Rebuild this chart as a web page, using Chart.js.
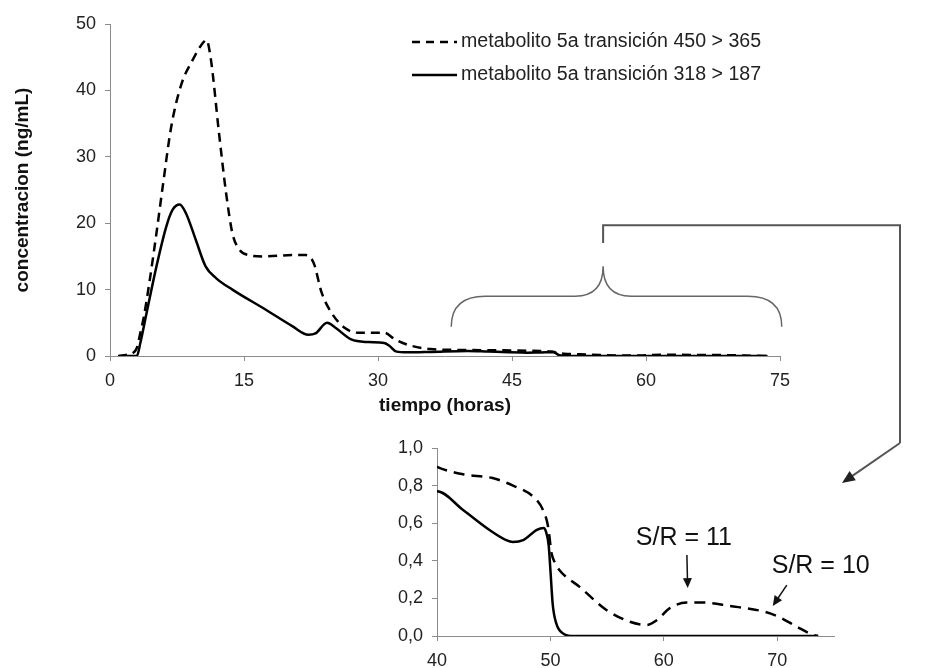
<!DOCTYPE html>
<html>
<head>
<meta charset="utf-8">
<script src="https://cdn.jsdelivr.net/npm/chart.js@4.4.1/dist/chart.umd.min.js"></script>
<style>
body{margin:0;background:#fff;}
#wrap{position:relative;width:951px;height:668px;}
#wrap canvas{position:absolute;left:0;top:0;}
</style>
</head>
<body>
<div id="wrap">
<canvas id="principal" width="951" height="668"></canvas>
<canvas id="detalle" width="951" height="668"></canvas>
</div>
<script>
// datos (tiempo en horas, concentracion en ng/mL)
var etiquetas = ['metabolito 5a transición 450 > 365', 'metabolito 5a transición 318 > 187'];

var tiempo450 = [0.9, 1.8, 2.5, 3.0, 3.4, 3.8, 4.4, 5.2, 5.9, 6.85, 7.96, 9.26, 10.37, 10.8, 11.3, 12.2, 13.0, 13.7, 14.5, 15.5, 17.4, 20.4, 21.9, 22.8, 23.7, 24.8, 26.3, 27.8, 30.7, 31.9, 33.3, 35.9,
    40, 42.3, 44.9, 46.7, 48.5, 49.35, 49.8, 50.1, 50.4, 50.8, 52.6, 54.9, 57.0, 58.5, 59.4, 60.5, 62.0, 63.5, 65.8, 68.8, 70.2, 71.7, 73.2, 73.6];
var conc450 = [0, 0.15, 0.4, 1.2, 3.5, 6, 11, 18.5, 25.5, 34.5, 40.8, 44.6, 47.1, 47.6, 44.6, 33.6, 24.5, 18.5, 16, 15.2, 15, 15.2, 15.2, 14, 9.5, 6.5, 4.2, 3.5, 3.5, 2.5, 1.7, 1.05,
    0.90, 0.86, 0.84, 0.80, 0.74, 0.67, 0.58, 0.44, 0.39, 0.35, 0.26, 0.14, 0.076, 0.059, 0.085, 0.147, 0.178, 0.178, 0.16, 0.13, 0.10, 0.05, 0.005, 0];

var tiempo318 = [1.0, 3.0, 3.4, 4.1, 5.2, 6.3, 7.0, 7.8, 8.5, 9.6, 10.7, 11.9, 13.7, 17.4, 20.4, 22.2, 23.0, 24.3, 25.2, 27.0, 28.9, 30.7, 31.3, 32.0, 33.3, 35.9,
    40, 42.3, 44.6, 46.1, 46.7, 47.6, 48.8, 49.4, 49.6, 49.85, 50.0, 50.2, 50.5, 51.1, 52.0, 60.0, 73.6];
var conc318 = [0, 0, 2, 6.5, 13.5, 19.5, 22, 22.8, 21.5, 17.5, 13.5, 11.7, 10, 7, 4.5, 3.2, 3.4, 5.0, 4.3, 2.5, 2.1, 1.95, 1.5, 0.7, 0.55, 0.62,
    0.77, 0.67, 0.565, 0.51, 0.50, 0.51, 0.565, 0.575, 0.556, 0.48, 0.35, 0.17, 0.07, 0.014, 0, 0, 0];

var ticksX = [0, 15, 30, 45, 60, 75];
var ticksY = [0, 10, 20, 30, 40, 50];
var ticksXdet = [40, 50, 60, 70];
var ticksYdet = [0, 0.2, 0.4, 0.6, 0.8, 1.0];

var fuente = "'Liberation Sans', Arial, sans-serif";
Chart.defaults.font.family = fuente;
Chart.defaults.color = '#222';

function puntos(ts, cs) {
    return ts.map(function (t, i) { return { x: t, y: cs[i] }; });
}

function series(guion) {
    return [{
        label: etiquetas[0],
        data: puntos(tiempo450, conc450),
        borderColor: '#000',
        borderWidth: 2.5,
        borderDash: guion,
        pointRadius: 0,
        fill: false,
        cubicInterpolationMode: 'monotone'
    }, {
        label: etiquetas[1],
        data: puntos(tiempo318, conc318),
        borderColor: '#000',
        borderWidth: 2.5,
        pointRadius: 0,
        fill: false,
        cubicInterpolationMode: 'monotone'
    }];
}

function flecha(ctx, x1, y1, x2, y2, largo, ancho) {
    var a = Math.atan2(y2 - y1, x2 - x1);
    ctx.beginPath();
    ctx.moveTo(x1, y1);
    ctx.lineTo(x2 - largo * 0.8 * Math.cos(a), y2 - largo * 0.8 * Math.sin(a));
    ctx.stroke();
    ctx.beginPath();
    ctx.moveTo(x2, y2);
    ctx.lineTo(x2 - largo * Math.cos(a) + ancho * Math.sin(a), y2 - largo * Math.sin(a) - ancho * Math.cos(a));
    ctx.lineTo(x2 - largo * Math.cos(a) - ancho * Math.sin(a), y2 - largo * Math.sin(a) + ancho * Math.cos(a));
    ctx.closePath();
    ctx.fill();
}

var gris = '#8c8c8c';

// leyenda, llave y conector de la grafica principal
var anotacionesPrincipal = {
    id: 'anotacionesPrincipal',
    afterDraw: function (chart) {
        var ctx = chart.ctx, xs = chart.scales.x, ys = chart.scales.y;
        ctx.save();

        // leyenda
        ctx.strokeStyle = '#000';
        ctx.lineWidth = 2.5;
        ctx.setLineDash([8, 6]);
        ctx.beginPath(); ctx.moveTo(412, 42); ctx.lineTo(457, 42); ctx.stroke();
        ctx.setLineDash([]);
        ctx.beginPath(); ctx.moveTo(412, 75); ctx.lineTo(457, 75); ctx.stroke();
        ctx.fillStyle = '#222';
        ctx.font = '19.6px ' + fuente;
        ctx.textBaseline = 'middle';
        ctx.textAlign = 'left';
        ctx.fillText(etiquetas[0], 461, 42);
        ctx.fillText(etiquetas[1], 461, 75);

        // llave sobre el intervalo 38-75 h
        var x0 = xs.getPixelForValue(38.2), x1 = xs.getPixelForValue(75.2), xm = xs.getPixelForValue(55.2);
        var yb = ys.getPixelForValue(4.4), yn = ys.getPixelForValue(9.0), yp = ys.getPixelForValue(13.5);
        ctx.strokeStyle = '#666';
        ctx.lineWidth = 1.5;
        ctx.beginPath();
        ctx.moveTo(x0, yb);
        ctx.quadraticCurveTo(x0, yn, x0 + 34, yn);
        ctx.lineTo(xm - 28, yn);
        ctx.quadraticCurveTo(xm, yn, xm, yp);
        ctx.quadraticCurveTo(xm, yn, xm + 28, yn);
        ctx.lineTo(x1 - 34, yn);
        ctx.quadraticCurveTo(x1, yn, x1, yb);
        ctx.stroke();

        // conector hacia la ampliacion
        var yc0 = ys.getPixelForValue(17.0), yc1 = ys.getPixelForValue(19.7);
        ctx.strokeStyle = '#555';
        ctx.fillStyle = '#222';
        ctx.lineWidth = 2;
        ctx.beginPath();
        ctx.moveTo(xm, yc0);
        ctx.lineTo(xm, yc1);
        ctx.lineTo(900, yc1);
        ctx.lineTo(900, 443);
        ctx.stroke();
        flecha(ctx, 900, 443, 842, 483, 13, 5.5);
        ctx.restore();
    }
};

// rotulos S/R de la ampliacion
var anotacionesDetalle = {
    id: 'anotacionesDetalle',
    afterDraw: function (chart) {
        var ctx = chart.ctx, xs = chart.scales.x, ys = chart.scales.y;
        ctx.save();
        ctx.fillStyle = '#111';
        ctx.font = '25px ' + fuente;
        ctx.textAlign = 'center';
        ctx.textBaseline = 'middle';
        ctx.fillText('S/R = 11', xs.getPixelForValue(61.76), ys.getPixelForValue(0.521));
        ctx.fillText('S/R = 10', xs.getPixelForValue(73.83), ys.getPixelForValue(0.372));
        ctx.strokeStyle = '#111';
        ctx.lineWidth = 1.5;
        flecha(ctx, xs.getPixelForValue(62.03), ys.getPixelForValue(0.431), xs.getPixelForValue(62.1), ys.getPixelForValue(0.255), 10, 4.5);
        flecha(ctx, xs.getPixelForValue(70.84), ys.getPixelForValue(0.271), xs.getPixelForValue(69.6), ys.getPixelForValue(0.16), 10, 4.5);
        ctx.restore();
    }
};

function eje(ticks, ancho, alto, extra) {
    var o = {
        type: 'linear',
        min: ticks[0],
        afterBuildTicks: function (s) { s.ticks = ticks.map(function (v) { return { value: v }; }); },
        ticks: { font: { size: 18 }, color: '#222', padding: 9 },
        grid: { drawOnChartArea: false, drawTicks: true, tickLength: 5, color: gris, tickColor: gris },
        border: { display: true, color: gris, width: 1 }
    };
    if (ancho) o.afterFit = function (s) { s.width = ancho; };
    if (alto) o.afterFit = function (s) { s.height = alto; };
    for (var k in extra) o[k] = extra[k];
    return o;
}

new Chart(document.getElementById('principal'), {
    type: 'line',
    data: { datasets: series([9, 6]) },
    options: {
        responsive: false,
        animation: false,
        devicePixelRatio: 1,
        layout: { padding: { left: 0, top: 24, right: 171, bottom: 248 } },
        plugins: { legend: { display: false }, tooltip: { enabled: false } },
        scales: {
            x: eje(ticksX, 0, 64, {
                max: 75,
                title: { display: true, text: 'tiempo (horas)', color: '#111', font: { size: 19, weight: 'bold' }, padding: { top: 0, bottom: 3 } }
            }),
            y: eje(ticksY, 110, 0, {
                max: 50,
                title: { display: true, text: 'concentracion (ng/mL)', color: '#111', font: { size: 19, weight: 'bold' }, padding: { top: 11, bottom: 0 } }
            })
        }
    },
    plugins: [anotacionesPrincipal]
});

new Chart(document.getElementById('detalle'), {
    type: 'line',
    data: { datasets: series([11, 7]) },
    options: {
        responsive: false,
        animation: false,
        devicePixelRatio: 1,
        layout: { padding: { left: 360, top: 448, right: 117, bottom: 0 } },
        plugins: { legend: { display: false }, tooltip: { enabled: false } },
        scales: {
            x: eje(ticksXdet, 0, 32, { max: 75 }),
            y: eje(ticksYdet, 77, 0, { max: 1 })
        }
    },
    plugins: [anotacionesDetalle]
});
// decimales con coma
Chart.getChart('detalle').options.scales.y.ticks.callback = function (v) { return v.toFixed(1).replace('.', ','); };
Chart.getChart('detalle').update('none');
</script>
</body>
</html>
